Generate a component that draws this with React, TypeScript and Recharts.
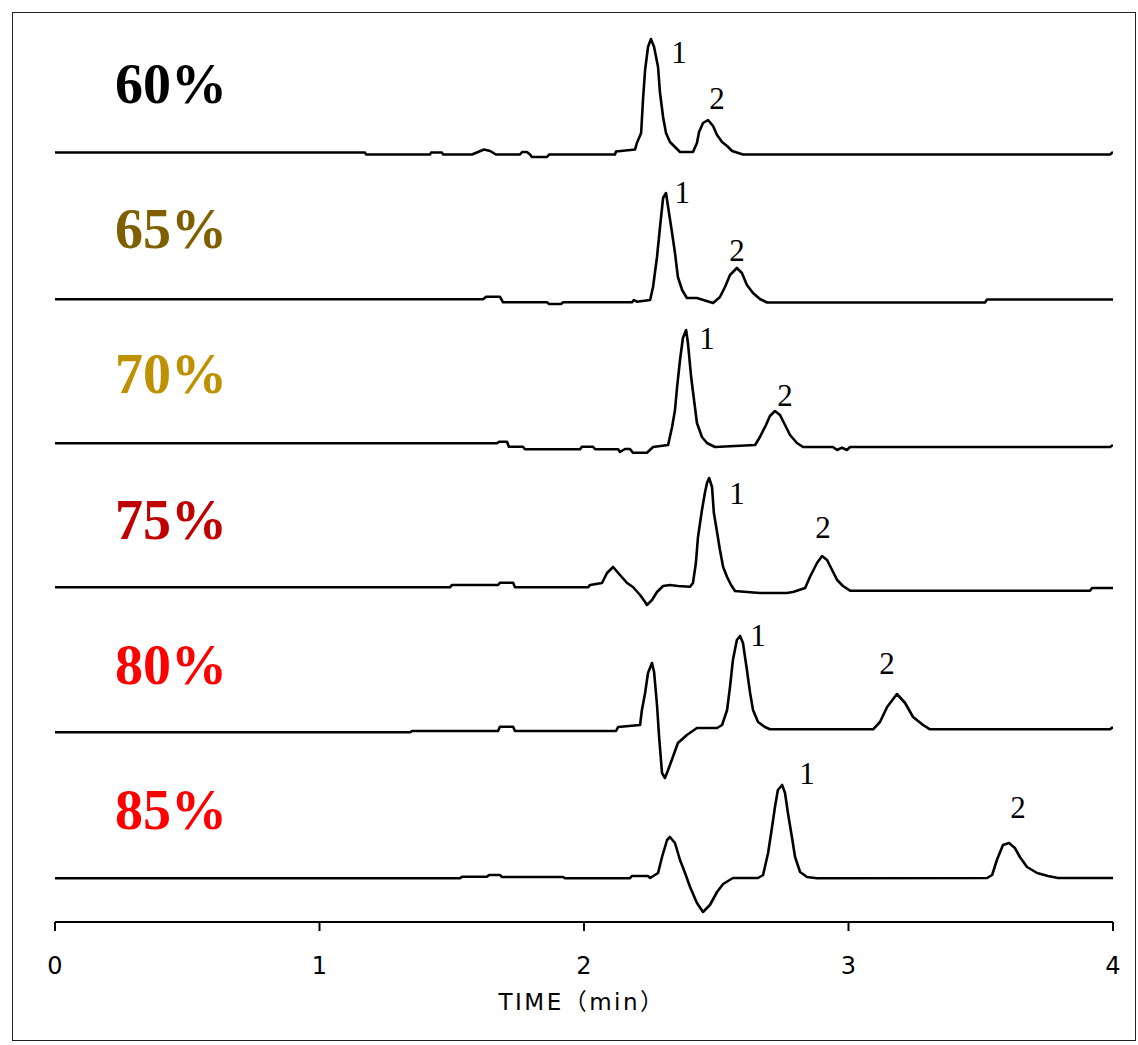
import { LineChart, Line, XAxis, YAxis, ReferenceDot } from "recharts";

// chromatograms at different mobile phase compositions, [time (min), signal]
const TRACE_60: [number, number][] = [
  [0, 0], [1.172, 0], [1.176, -2], [1.418, -2], [1.422, 0], [1.463, 0], [1.467, -2],
  [1.577, -2], [1.599, 0.5], [1.622, 3], [1.645, 1.5], [1.667, -2], [1.758, -2],
  [1.766, 0.5], [1.784, 0.5], [1.796, -2], [1.803, -4.5], [1.86, -4.5], [1.868, -2],
  [2.117, -2], [2.121, 1], [2.193, 3], [2.2, 9.5], [2.216, 19.5], [2.223, 52.5],
  [2.231, 82.5], [2.242, 105.5], [2.253, 113.5], [2.265, 105.5], [2.28, 85.5],
  [2.287, 60.5], [2.299, 35.5], [2.31, 19.5], [2.325, 10.5], [2.344, 5.5], [2.363, 0.5],
  [2.412, 0.5], [2.427, 9.5], [2.435, 20.5], [2.45, 29.5], [2.469, 32.5], [2.488, 26.5],
  [2.503, 17.5], [2.522, 10.5], [2.541, 6.5], [2.56, 1.5], [2.601, -2], [3.989, -2],
  [4, 0.5],
];

const TRACE_65: [number, number][] = [
  [0, -1.6], [1.618, -1.6], [1.63, 1], [1.682, 1], [1.694, -4.6], [1.86, -4.6],
  [1.868, -6.3], [1.913, -6.3], [1.921, -4.6], [2.181, -4.6], [2.189, -2.3], [2.2, -4],
  [2.25, -2.3], [2.261, 10.7], [2.276, 40.7], [2.287, 69.7], [2.299, 99.7], [2.31, 104.7],
  [2.318, 90.7], [2.333, 64.7], [2.344, 44.7], [2.355, 20.7], [2.371, 7.7], [2.389, -0.3],
  [2.427, -0.3], [2.488, -5.3], [2.514, 0.7], [2.533, 10.7], [2.552, 22.7], [2.578, 29.7],
  [2.597, 24.7], [2.616, 12.7], [2.639, 4.7], [2.665, -1.3], [2.692, -4.8], [3.516, -4.8],
  [3.524, -1.8], [4, -1.8],
];

const TRACE_70: [number, number][] = [
  [0, -0.4], [1.671, -0.4], [1.679, 1.2], [1.709, 1.2], [1.716, -3.8], [1.769, -3.8],
  [1.777, -6.4], [1.985, -6.4], [1.992, -3.8], [2.034, -3.8], [2.042, -6.4], [2.129, -6.4],
  [2.136, -9.1], [2.155, -6.1], [2.174, -6.1], [2.185, -9.8], [2.238, -9.8], [2.261, -4.1],
  [2.318, -2.1], [2.333, 15.9], [2.344, 32.9], [2.352, 55.9], [2.363, 82.9], [2.374, 104.9],
  [2.386, 112.9], [2.393, 99.9], [2.405, 65.9], [2.416, 42.9], [2.427, 19.9], [2.446, 5.9],
  [2.465, -0.1], [2.495, -4.1], [2.647, -2.1], [2.665, 5.9], [2.688, 17.9], [2.703, 26.9],
  [2.722, 31.9], [2.741, 27.9], [2.76, 17.9], [2.779, 7.9], [2.805, -0.1], [2.828, -4.1],
  [2.941, -4.1], [2.957, -7.1], [2.975, -4.8], [2.994, -7.1], [3.006, -4.1], [3.989, -4.1],
  [4, -2.1],
];

const TRACE_75: [number, number][] = [
  [0, 0.8], [1.493, 0.8], [1.501, 3.1], [1.675, 3.1], [1.682, 5.4], [1.732, 5.4],
  [1.739, 0.8], [2.015, 0.8], [2.023, 3.1], [2.068, 5.1], [2.087, 15.1], [2.11, 21.1],
  [2.136, 13.1], [2.163, 5.1], [2.185, 1.1], [2.212, -6.9], [2.231, -13.9], [2.238, -16.9],
  [2.257, -11.9], [2.276, -3.9], [2.299, 2.1], [2.325, 3.1], [2.355, 2.1], [2.401, 1.4],
  [2.412, 5.1], [2.423, 25.1], [2.431, 51.1], [2.446, 78.1], [2.457, 95.1], [2.465, 105.1],
  [2.473, 110.1], [2.484, 101.1], [2.491, 75.1], [2.503, 56.1], [2.514, 38.1], [2.526, 21.1],
  [2.541, 11.1], [2.556, 3.1], [2.571, -2.9], [2.616, -3.9], [2.665, -4.9], [2.767, -4.9],
  [2.79, -3.9], [2.836, 0.1], [2.854, 11.1], [2.881, 25.1], [2.9, 32.1], [2.919, 28.1],
  [2.938, 18.1], [2.957, 8.1], [2.979, 2.1], [3.006, -2.6], [3.913, -2.6], [3.921, 0.1],
  [4, 0.1],
];

const TRACE_80: [number, number][] = [
  [0, 1], [1.342, 1], [1.35, 2.3], [1.675, 2.3], [1.682, 6.6], [1.732, 6.6], [1.739, 2.3],
  [2.121, 2.3], [2.129, 6.3], [2.212, 8.3], [2.219, 23.3], [2.231, 40.3], [2.242, 60.3],
  [2.257, 70.3], [2.265, 61.3], [2.276, 28.3], [2.284, -3.7], [2.295, -39.7], [2.306, -44.7],
  [2.318, -36.7], [2.336, -23.7], [2.355, -9.7], [2.389, -1.7], [2.427, 5.3], [2.503, 5.3],
  [2.522, 8.3], [2.541, 23.3], [2.552, 46.3], [2.563, 73.3], [2.578, 93.3], [2.59, 97.3],
  [2.601, 90.3], [2.616, 63.3], [2.628, 40.3], [2.639, 23.3], [2.658, 11.3], [2.684, 6.3],
  [2.703, 4], [3.093, 4], [3.119, 11.3], [3.146, 26.3], [3.183, 39.3], [3.214, 30.3],
  [3.244, 16.3], [3.282, 8.3], [3.308, 4], [3.989, 4], [4, 6.3],
];

const TRACE_85: [number, number][] = [
  [0, 0.2], [1.531, 0.2], [1.539, 1.8], [1.633, 1.8], [1.641, 3.5], [1.682, 3.5],
  [1.69, 1.5], [1.921, 1.5], [1.928, 0.2], [2.174, 0.2], [2.181, 2.5], [2.242, 2.5],
  [2.25, 0.5], [2.28, 5.5], [2.295, 21.5], [2.314, 38.5], [2.325, 41.5], [2.344, 35.5],
  [2.363, 18.5], [2.382, 5.5], [2.401, -8.5], [2.427, -24.5], [2.45, -33.5], [2.476, -26.5],
  [2.503, -13.5], [2.526, -5.5], [2.563, 0.5], [2.658, 0.5], [2.677, 3.5], [2.696, 25.5],
  [2.711, 51.5], [2.722, 71.5], [2.733, 88.5], [2.749, 93.5], [2.76, 85.5], [2.771, 65.5],
  [2.786, 41.5], [2.798, 21.5], [2.817, 6.5], [2.843, 1.5], [2.881, 0.2], [3.524, 0.5],
  [3.543, 3.5], [3.561, 18.5], [3.584, 33.5], [3.607, 35.5], [3.629, 30.5], [3.648, 21.5],
  [3.675, 11.5], [3.713, 5.5], [3.754, 2.5], [3.792, 0.5], [4, 0.5],
];

const TRACES = [TRACE_60, TRACE_65, TRACE_70, TRACE_75, TRACE_80, TRACE_85];
const TRACE_NAMES = ["60%", "65%", "70%", "75%", "80%", "85%"];
const NAME_COLORS = ["#000000", "#7f6000", "#bf9000", "#c00000", "#ff0000", "#ff0000"];

// peak number tags: [label, time, height above baseline]
const PEAK_TAGS: [string, number, number][][] = [
  [["1", 2.359, 100.5], ["2", 2.503, 54.5]],
  [["1", 2.371, 105.7], ["2", 2.578, 47.7]],
  [["1", 2.465, 104.9], ["2", 2.76, 47.9]],
  [["1", 2.578, 95.1], ["2", 2.904, 61.1]],
  [["1", 2.658, 98.3], ["2", 3.146, 70.3]],
  [["1", 2.843, 105.5], ["2", 3.641, 71.5]],
];

const X_TICKS = [0, 1, 2, 3, 4];
const X_TITLE = "TIME（min）";
const NAME_TIME = 0.227;
const NAME_HEIGHT = 49.5;

const W = 1138;
const H = 1045;
const TOP_OFFSET = 769.5;
const STEP = 145.2;
const offsetOf = (i: number) => TOP_OFFSET - STEP * i;

const serif = "'Liberation Serif', 'Times New Roman', serif";
const sans = "'DejaVu Sans', 'Noto Sans CJK JP', sans-serif";

const textAt =
  (text: string, style: Record<string, any>) =>
  (props: any) => {
    const vb = props.viewBox || {};
    return (
      <text x={vb.x} y={vb.y} {...style}>
        {text}
      </text>
    );
  };

function TimeTick(props: any) {
  const { x, y, payload } = props;
  return (
    <text
      x={x}
      y={y + 15}
      textAnchor="middle"
      dominantBaseline="central"
      fill="#000"
      fontSize={24}
      fontFamily={sans}
    >
      {payload.value}
    </text>
  );
}

function TimeTitle(props: any) {
  const vb = props.viewBox || {};
  return (
    <text
      x={vb.x + vb.width / 2 - 2}
      y={1002}
      textAnchor="middle"
      dominantBaseline="central"
      fill="#000"
      fontSize={23}
      fontFamily={sans}
      letterSpacing={2.5}
    >
      {X_TITLE}
    </text>
  );
}

export default function App() {
  return (
    <div
      style={{
        position: "absolute",
        left: 0,
        top: 0,
        width: W,
        height: H,
        background: "#fff",
      }}
    >
      <div
        style={{
          position: "absolute",
          left: 12,
          top: 12,
          width: 1122,
          height: 1027,
          border: "1.5px solid #222",
        }}
      />
      <LineChart
        width={W}
        height={H}
        margin={{ top: 0, right: 25, left: 55, bottom: 33 }}
        style={{ position: "absolute", left: 0, top: 0 }}
      >
        <XAxis
          type="number"
          dataKey="t"
          domain={[0, 4]}
          ticks={X_TICKS}
          allowDataOverflow
          height={90}
          tickSize={9}
          tickMargin={20}
          axisLine={{ stroke: "#000", strokeWidth: 2 }}
          tickLine={{ stroke: "#000", strokeWidth: 2 }}
          tick={<TimeTick />}
          label={<TimeTitle />}
        />
        <YAxis hide type="number" domain={[0, 922]} allowDataOverflow />
        {TRACES.map((pts, i) => (
          <Line
            key={TRACE_NAMES[i]}
            data={pts.map(([t, s]) => ({ t, v: offsetOf(i) + s }))}
            dataKey="v"
            type="linear"
            stroke="#000"
            strokeWidth={2.6}
            strokeLinejoin="round"
            dot={false}
            activeDot={false}
            isAnimationActive={false}
          />
        ))}
        {TRACE_NAMES.map((name, i) => (
          <ReferenceDot
            key={"n" + name}
            x={NAME_TIME}
            y={offsetOf(i) + NAME_HEIGHT}
            r={0}
            fill="none"
            stroke="none"
            label={textAt(name, {
              fill: NAME_COLORS[i],
              fontFamily: serif,
              fontWeight: 700,
              fontSize: 56,
              textAnchor: "start",
            })}
          />
        ))}
        {PEAK_TAGS.flatMap((tags, i) =>
          tags.map(([lab, t, h]) => (
            <ReferenceDot
              key={`p${i}${lab}`}
              x={t}
              y={offsetOf(i) + h}
              r={0}
              fill="none"
              stroke="none"
              label={textAt(lab, {
                fill: "#000",
                fontFamily: serif,
                fontSize: 31,
                textAnchor: "middle",
                dominantBaseline: "central",
              })}
            />
          ))
        )}
      </LineChart>
    </div>
  );
}
